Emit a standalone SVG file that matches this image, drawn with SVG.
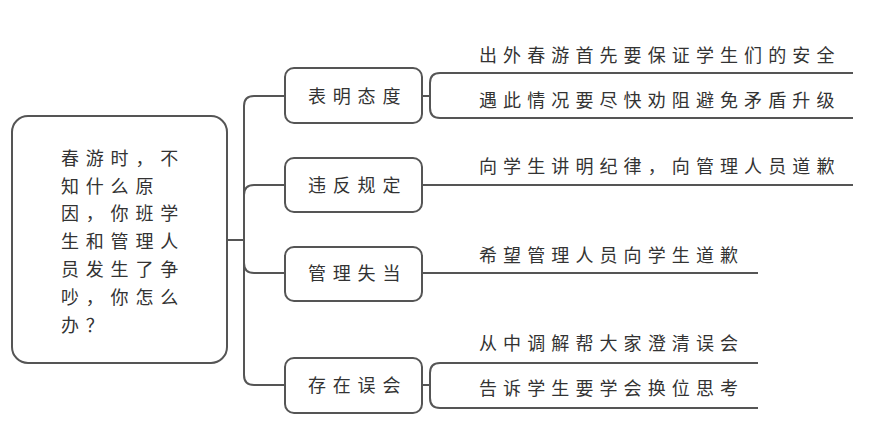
<svg xmlns="http://www.w3.org/2000/svg" width="876" height="435" viewBox="0 0 876 435">
<style>
.box{fill:#fff;stroke:#555;stroke-width:2}
.ln{fill:none;stroke:#555;stroke-width:2}
text{font-family:"Noto Sans CJK SC","Noto Sans",sans-serif;font-size:18px;fill:#333;letter-spacing:6.8px}
.leaf text{letter-spacing:6.1px}
</style>
<rect width="876" height="435" fill="#fff"/>
<g id="connectors">
<path class="ln" d="M227,240 L244,240"/>
<path class="ln" d="M244,240 L244,106 Q244,96 254,96 L285,96"/>
<path class="ln" d="M244,240 L244,195 Q244,185 254,185 L285,185"/>
<path class="ln" d="M244,240 L244,263 Q244,273 254,273 L285,273"/>
<path class="ln" d="M244,240 L244,375 Q244,385 254,385 L285,385"/>
<path class="ln" d="M422,96 L430,96 M853,73 L440,73 Q430,73 430,83 L430,108 Q430,118 440,118 L853,118"/>
<path class="ln" d="M422,185 L853,185"/>
<path class="ln" d="M422,273 L758,273"/>
<path class="ln" d="M422,385 L430,385 M758,363 L440,363 Q430,363 430,373 L430,398 Q430,408 440,408 L758,408"/>
</g>
<g id="root">
<rect class="box" x="12" y="116" width="215" height="247" rx="16"/>
<text x="61" y="164.8">春游时，不</text>
<text x="61" y="192.6">知什么原</text>
<text x="61" y="220.4">因，你班学</text>
<text x="61" y="248.2">生和管理人</text>
<text x="61" y="276">员发生了争</text>
<text x="61" y="303.8">吵，你怎么</text>
<text x="61" y="331.6">办？</text>
</g>
<g id="n1">
<rect class="box" x="285" y="68" width="137" height="55" rx="9"/>
<text x="308" y="102.5">表明态度</text>
</g>
<g id="n2">
<rect class="box" x="285" y="158" width="137" height="54" rx="9"/>
<text x="308" y="191.5">违反规定</text>
</g>
<g id="n3">
<rect class="box" x="285" y="247" width="137" height="54" rx="9"/>
<text x="308" y="280">管理失当</text>
</g>
<g id="n4">
<rect class="box" x="285" y="358" width="137" height="55" rx="9"/>
<text x="308" y="391.5">存在误会</text>
</g>
<g id="l1" class="leaf"><text x="479" y="61.5">出外春游首先要保证学生们的安全</text></g>
<g id="l2" class="leaf"><text x="479" y="106.5">遇此情况要尽快劝阻避免矛盾升级</text></g>
<g id="l3" class="leaf"><text x="479" y="173">向学生讲明纪律，向管理人员道歉</text></g>
<g id="l4" class="leaf"><text x="479" y="261.5">希望管理人员向学生道歉</text></g>
<g id="l5" class="leaf"><text x="479" y="350">从中调解帮大家澄清误会</text></g>
<g id="l6" class="leaf"><text x="479" y="395">告诉学生要学会换位思考</text></g>
</svg>
